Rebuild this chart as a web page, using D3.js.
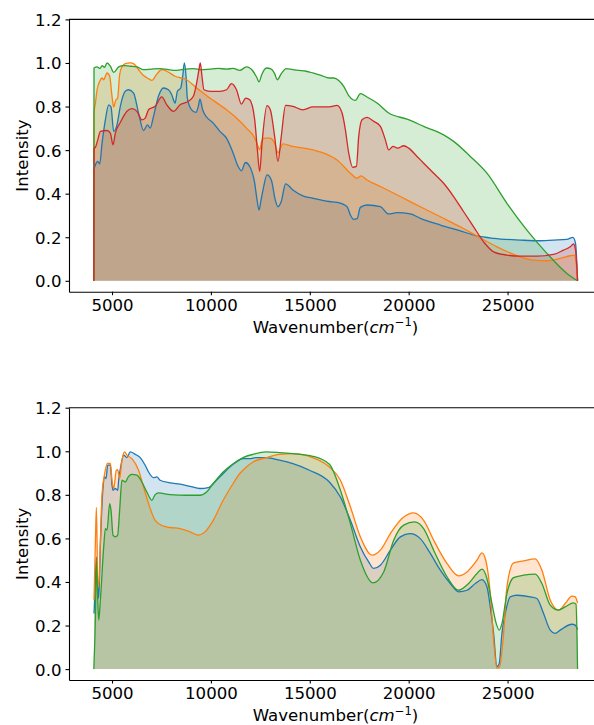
<!DOCTYPE html>
<html>
<head>
<meta charset="utf-8">
<script src="https://cdn.jsdelivr.net/npm/d3@7"></script>
<style>
  html, body { margin: 0; padding: 0; background: #fff; }
  text { font-family: "DejaVu Sans", sans-serif; }
</style>
</head>
<body>
<svg id="chart" width="594" height="725"></svg>
<script>
// Spectra: [wavenumber (cm^-1), normalised intensity]
const topBlue = [[4080,0],[4090,0.509],[4161,0.532],[4279,0.548],[4379,0.537],[4497,0.632],[4664,0.739],[4832,0.808],[4950,0.798],[5084,0.686],[5252,0.716],[5420,0.801],[5671,0.87],[5839,0.877],[6091,0.862],[6342,0.77],[6594,0.69],[6795,0.716],[6930,0.701],[7098,0.755],[7349,0.847],[7601,0.885],[7853,0.877],[8020,0.854],[8188,0.816],[8306,0.87],[8474,0.885],[8574,0.939],[8658,1.0],[8742,0.939],[8809,0.839],[9027,0.785],[9245,0.773],[9363,0.801],[9447,0.834],[9581,0.785],[9782,0.752],[10118,0.724],[10454,0.686],[10789,0.655],[11125,0.586],[11376,0.525],[11544,0.505],[11746,0.543],[11964,0.525],[12215,0.448],[12333,0.371],[12434,0.325],[12534,0.37],[12635,0.417],[12836,0.486],[13054,0.463],[13256,0.371],[13390,0.34],[13558,0.364],[13776,0.445],[14145,0.417],[14649,0.39],[15152,0.379],[15991,0.364],[16379,0.36],[16884,0.34],[17053,0.302],[17221,0.282],[17390,0.285],[17558,0.337],[17895,0.348],[18569,0.34],[18990,0.307],[19411,0.313],[20084,0.307],[20589,0.287],[21600,0.256],[22610,0.229],[23452,0.206],[24294,0.195],[25641,0.187],[26483,0.184],[27325,0.187],[27999,0.19],[28302,0.199],[28437,0.172],[28540,0]];

const topOrange = [[4080,0],[4090,0.77],[4161,0.816],[4245,0.877],[4379,0.916],[4497,0.931],[4580,0.923],[4664,0.939],[4748,0.954],[4883,0.939],[5000,0.847],[5084,0.798],[5185,0.828],[5285,0.839],[5386,0.946],[5503,0.982],[5671,0.997],[5923,1.0],[6124,0.995],[6342,0.969],[6594,0.942],[6846,0.928],[7014,0.92],[7266,0.949],[7517,0.969],[7769,0.962],[8188,0.939],[8776,0.923],[9279,0.885],[9950,0.839],[10789,0.785],[11293,0.747],[11796,0.701],[12215,0.655],[12383,0.617],[12467,0.601],[12568,0.64],[12719,0.655],[12971,0.655],[13222,0.632],[13390,0.589],[13642,0.629],[14145,0.617],[15152,0.601],[15991,0.575],[16379,0.555],[17053,0.494],[17390,0.471],[17592,0.482],[17895,0.463],[18569,0.433],[19579,0.387],[20589,0.34],[21600,0.294],[22610,0.248],[23452,0.206],[24463,0.156],[25641,0.11],[26315,0.095],[26989,0.092],[27662,0.103],[28167,0.115],[28369,0.118],[28470,0.08],[28540,0]];

const topGreen = [[4080,0],[4090,0.977],[4245,0.982],[4400,0.975],[4497,0.988],[4620,0.98],[4748,1.0],[4916,0.985],[5084,0.957],[5336,0.982],[5587,0.988],[5923,0.985],[6259,0.982],[6594,0.969],[7014,0.972],[7433,0.974],[7853,0.969],[8272,0.966],[8692,0.972],[9111,0.974],[9531,0.969],[9950,0.972],[10370,0.975],[10789,0.972],[11125,0.975],[11460,0.966],[11796,0.982],[12132,0.962],[12333,0.931],[12434,0.913],[12568,0.946],[12803,0.977],[13054,0.972],[13222,0.951],[13356,0.923],[13558,0.951],[13810,0.974],[14145,0.969],[14481,0.966],[14817,0.962],[15152,0.954],[15571,0.943],[15991,0.931],[16211,0.931],[16464,0.92],[16716,0.893],[16969,0.85],[17188,0.831],[17306,0.828],[17558,0.859],[17895,0.844],[18400,0.816],[18990,0.77],[19916,0.742],[20758,0.709],[21768,0.67],[22273,0.64],[23115,0.571],[23957,0.494],[24968,0.356],[25978,0.233],[26989,0.126],[27999,0.034],[28540,0]];

const topRed = [[4080,0],[4090,0.609],[4161,0.613],[4279,0.647],[4413,0.686],[4748,0.69],[4916,0.678],[5050,0.624],[5168,0.678],[5420,0.727],[5755,0.778],[6007,0.79],[6259,0.778],[6510,0.739],[6678,0.747],[6846,0.785],[7181,0.801],[7517,0.844],[7769,0.808],[8104,0.778],[8440,0.808],[8859,0.824],[9111,0.847],[9279,0.908],[9396,0.969],[9463,1.0],[9548,0.939],[9648,0.877],[9950,0.87],[10454,0.87],[10789,0.877],[11041,0.905],[11293,0.877],[11544,0.811],[11762,0.839],[11964,0.831],[12215,0.739],[12350,0.601],[12467,0.502],[12585,0.632],[12836,0.804],[13004,0.785],[13222,0.663],[13390,0.548],[13558,0.663],[13776,0.805],[14145,0.801],[14649,0.785],[15152,0.798],[15991,0.798],[16379,0.805],[16632,0.77],[16800,0.693],[16969,0.586],[17171,0.521],[17356,0.525],[17474,0.663],[17642,0.739],[17895,0.75],[18232,0.732],[18569,0.709],[18821,0.647],[18990,0.601],[19209,0.617],[19444,0.609],[19747,0.62],[20000,0.609],[20421,0.571],[20758,0.54],[21263,0.494],[21768,0.448],[22273,0.387],[22779,0.317],[23284,0.248],[23789,0.179],[24294,0.133],[24968,0.118],[25641,0.113],[26483,0.113],[27325,0.121],[27830,0.141],[28167,0.156],[28336,0.169],[28437,0.141],[28540,0]];

const bottomBlue = [[4090,0.255],[4161,0.408],[4211,0.515],[4279,0.378],[4329,0.324],[4413,0.576],[4547,0.836],[4614,0.882],[4698,0.875],[4782,0.936],[4916,0.936],[5000,0.844],[5050,0.821],[5168,0.829],[5285,0.821],[5336,0.867],[5453,0.936],[5587,0.982],[5755,0.971],[5923,0.997],[6175,0.986],[6426,0.971],[6678,0.936],[6846,0.905],[7098,0.879],[7265,0.882],[7433,0.867],[7937,0.855],[8440,0.849],[8943,0.839],[9447,0.829],[9866,0.833],[10202,0.859],[10621,0.898],[10957,0.928],[11293,0.951],[11628,0.966],[11964,0.966],[12299,0.971],[12803,0.971],[13474,0.959],[14145,0.943],[14984,0.913],[15991,0.859],[16548,0.79],[17053,0.683],[17558,0.561],[17979,0.492],[18232,0.462],[18569,0.477],[19074,0.546],[19579,0.607],[20084,0.622],[20589,0.599],[21095,0.531],[21600,0.454],[22105,0.393],[22526,0.355],[22947,0.362],[23368,0.393],[23705,0.411],[23957,0.378],[24126,0.286],[24294,0.164],[24462,0.011],[24580,0.026],[24715,0.164],[24884,0.255],[25136,0.332],[25473,0.339],[26147,0.332],[26483,0.324],[26820,0.255],[27157,0.179],[27410,0.164],[27662,0.179],[28252,0.206],[28420,0.202],[28540,0.182]];

const bottomOrange = [[4090,0.317],[4161,0.592],[4211,0.742],[4279,0.401],[4329,0.378],[4413,0.592],[4497,0.806],[4614,0.89],[4782,0.946],[4916,0.943],[5000,0.867],[5084,0.829],[5218,0.913],[5285,0.916],[5386,0.875],[5503,0.959],[5638,0.997],[5755,0.982],[6007,0.966],[6342,0.913],[6594,0.836],[6846,0.76],[7181,0.683],[7601,0.656],[7937,0.65],[8440,0.645],[8943,0.63],[9363,0.615],[9698,0.63],[10118,0.683],[10621,0.775],[11125,0.852],[11460,0.898],[11796,0.928],[12132,0.951],[12803,0.971],[13474,0.986],[14145,0.989],[15152,0.971],[15991,0.928],[16548,0.867],[17053,0.745],[17558,0.607],[18148,0.523],[18569,0.546],[19074,0.622],[19663,0.691],[20253,0.717],[20758,0.683],[21263,0.592],[21937,0.485],[22526,0.428],[22947,0.446],[23452,0.5],[23705,0.534],[23873,0.508],[24126,0.347],[24294,0.133],[24462,0.003],[24597,0.011],[24800,0.164],[24968,0.378],[25305,0.488],[25810,0.497],[26400,0.506],[26736,0.454],[27157,0.317],[27578,0.271],[27915,0.301],[28252,0.335],[28420,0.332],[28540,0.304]];

const bottomGreen = [[4080,0],[4161,0.24],[4211,0.492],[4279,0.317],[4329,0.225],[4413,0.317],[4580,0.561],[4664,0.645],[4748,0.638],[4883,0.76],[4950,0.729],[5050,0.615],[5168,0.607],[5285,0.615],[5386,0.729],[5503,0.867],[5671,0.859],[5839,0.885],[6007,0.894],[6259,0.89],[6510,0.859],[6762,0.813],[7014,0.775],[7181,0.801],[7349,0.809],[7937,0.801],[8776,0.798],[9447,0.798],[9782,0.813],[10118,0.852],[10621,0.905],[11125,0.943],[11628,0.971],[12132,0.986],[12803,0.997],[13474,0.994],[14145,0.989],[15152,0.977],[15991,0.94],[16548,0.821],[17053,0.668],[17558,0.5],[18198,0.396],[18737,0.446],[19242,0.592],[19747,0.661],[20303,0.676],[20758,0.645],[21263,0.546],[21937,0.424],[22526,0.362],[23031,0.393],[23452,0.439],[23705,0.459],[23957,0.416],[24210,0.301],[24429,0.209],[24580,0.179],[24715,0.209],[24968,0.347],[25305,0.42],[25810,0.431],[26400,0.436],[26736,0.393],[27157,0.294],[27578,0.271],[27915,0.286],[28336,0.304],[28460,0.298],[28540,0]];

const xTicks = [5000, 10000, 15000, 20000, 25000];
const yTicks = [0.0, 0.2, 0.4, 0.6, 0.8, 1.0, 1.2];
const seriesColors = ["#1f77b4", "#ff7f0e", "#2ca02c", "#d62728"];

const topSeries = [topBlue, topOrange, topGreen, topRed];
const bottomSeries = [bottomBlue, bottomOrange, bottomGreen];

const svg = d3.select("#chart");
const xDomain = [2825, 29775];
const yDomain = [-0.05, 1.2];
const plotLeft = 69, plotRight = 602;

function drawPanel(series, top, bottom) {
  const x = d3.scaleLinear().domain(xDomain).range([plotLeft, plotRight]);
  const y = d3.scaleLinear().domain(yDomain).range([bottom, top]);
  const g = svg.append("g");

  const line = d3.line().x(d => x(d[0])).y(d => y(d[1])).curve(d3.curveMonotoneX);
  const area = d3.area().x(d => x(d[0])).y0(y(0)).y1(d => y(d[1])).curve(d3.curveMonotoneX);

  // translucent fills sit underneath every spectrum line
  const fills = g.append("g");
  const lines = g.append("g");
  series.forEach((data, i) => {
    const c = seriesColors[i];
    fills.append("path").datum(data).attr("d", area)
      .attr("fill", c).attr("fill-opacity", 0.2).attr("stroke", "none");
    lines.append("path").datum(data).attr("d", line)
      .attr("fill", "none").attr("stroke", c).attr("stroke-width", 1.3)
      .attr("stroke-linejoin", "round");
  });

  // x axis
  const xAxis = d3.axisBottom(x).tickValues(xTicks).tickFormat(d3.format("d"))
    .tickSizeInner(3.5).tickSizeOuter(0).tickPadding(4);
  const gx = g.append("g").attr("transform", `translate(0,${bottom})`).call(xAxis);
  // y axis
  const yAxis = d3.axisLeft(y).tickValues(yTicks).tickFormat(d3.format(".1f"))
    .tickSizeInner(3.5).tickSizeOuter(0).tickPadding(4);
  const gy = g.append("g").attr("transform", `translate(${plotLeft},0)`).call(yAxis);

  [gx, gy].forEach(a => {
    a.selectAll(".domain").attr("stroke", "#000").attr("stroke-width", 1.1);
    a.selectAll(".tick line").attr("stroke", "#000").attr("stroke-width", 1.1);
    a.selectAll(".tick text").attr("fill", "#000")
      .style("font-family", "DejaVu Sans").style("font-size", "16.6px");
  });
  gy.selectAll(".tick text").attr("dy", "0.36em");

  // top spine
  g.append("line").attr("x1", plotLeft).attr("x2", plotRight)
    .attr("y1", top).attr("y2", top).attr("stroke", "#000").attr("stroke-width", 1.1);

  // axis titles
  const xl = g.append("text")
    .attr("x", (plotLeft + plotRight) / 2).attr("y", bottom + 41)
    .attr("text-anchor", "middle").style("font-size", "16.6px").attr("fill", "#000");
  xl.append("tspan").text("Wavenumber(");
  xl.append("tspan").style("font-style", "italic").text("cm");
  xl.append("tspan").attr("dy", -6.5).style("font-size", "11.6px").text("\u22121");
  xl.append("tspan").attr("dy", 6.5).text(")");

  g.append("text")
    .attr("transform", `translate(28.3,${(top + bottom) / 2}) rotate(-90)`)
    .attr("text-anchor", "middle").style("font-size", "16.6px").attr("fill", "#000")
    .text("Intensity");
}

drawPanel(topSeries, 19.4, 291.7);
drawPanel(bottomSeries, 407.7, 680);
</script>
</body>
</html>
